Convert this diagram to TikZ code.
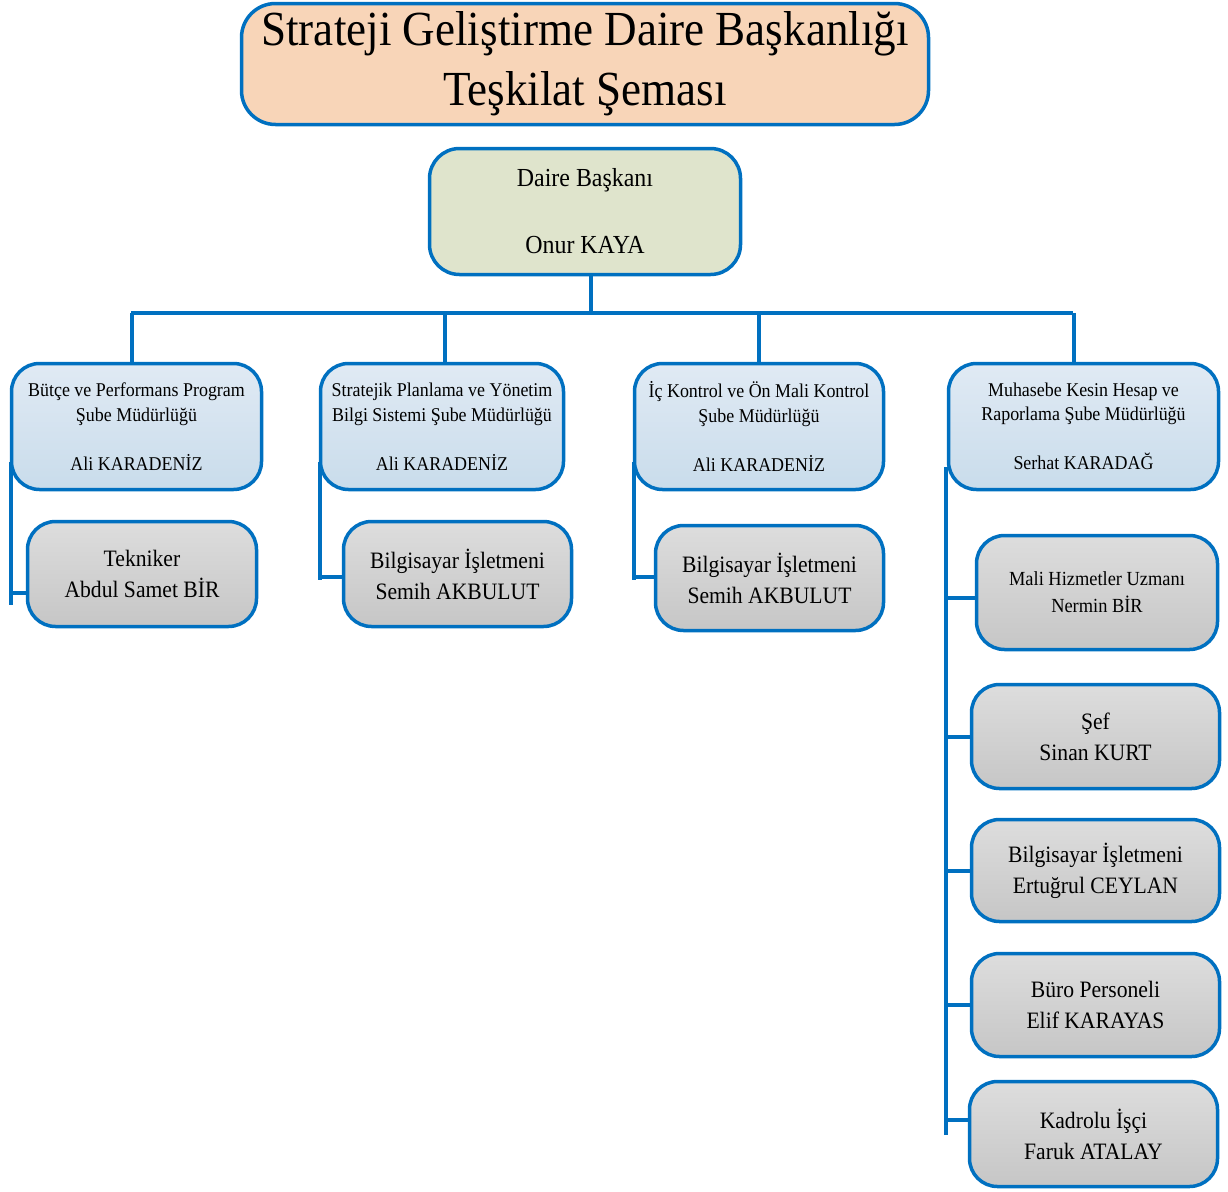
\documentclass[tikz,border=0pt]{standalone}
\usepackage{fontspec}
\setmainfont{Liberation Serif}[FakeStretch=0.92]
\usepackage{xcolor}
\usetikzlibrary{calc}

\definecolor{orgblue}{HTML}{0070C0}
\definecolor{peach}{HTML}{F8D5B8}
\definecolor{olivebg}{HTML}{DFE4CC}
\definecolor{bluetop}{HTML}{E0EAF4}
\definecolor{bluebot}{HTML}{C9DCEB}
\definecolor{graytop}{HTML}{DDDDDD}
\definecolor{graybot}{HTML}{C6C6C6}

\begin{document}
\begin{tikzpicture}[x=1pt,y=-1pt,
  box/.style={draw=orgblue,line width=3.5pt,align=center,inner sep=2pt},
  titlebox/.style={box,fill=peach,rounded corners=34pt,font=\fontsize{49}{60}\selectfont},
  headbox/.style={box,fill=olivebg,rounded corners=30pt,font=\fontsize{26}{34}\selectfont},
  unitbox/.style={box,top color=bluetop,bottom color=bluebot,rounded corners=28pt,font=\fontsize{19.5}{24.5}\selectfont},
  staffbox/.style={box,top color=graytop,bottom color=graybot,rounded corners=28pt,font=\fontsize{23.5}{31}\selectfont},
  link/.style={draw=orgblue,line width=4pt}]
\useasboundingbox (0,0) rectangle (1228,1191);

% title and head
\node[titlebox,minimum width=687pt,minimum height=121pt] (title) at (585,64)
  {Strateji Geliştirme Daire Başkanlığı\\Teşkilat Şeması};
\node[headbox,minimum width=311pt,minimum height=126pt] (head) at (585,211.5)
  {Daire Başkanı\\[33pt]Onur KAYA};

% units
\node[unitbox,minimum width=250pt,minimum height=126pt] (u1) at (136.5,426.5)
  {Bütçe ve Performans Program\\Şube Müdürlüğü\\[24.5pt]Ali KARADENİZ};
\node[unitbox,minimum width=243pt,minimum height=126pt] (u2) at (442,426.5)
  {Stratejik Planlama ve Yönetim\\Bilgi Sistemi Şube Müdürlüğü\\[24.5pt]Ali KARADENİZ};
\node[unitbox,minimum width=249pt,minimum height=126pt] (u3) at (759,426.5)
  {İç Kontrol ve Ön Mali Kontrol\\Şube Müdürlüğü\\[24.5pt]Ali KARADENİZ};
\node[unitbox,minimum width=270pt,minimum height=126pt] (u4) at (1083.5,426.5)
  {Muhasebe Kesin Hesap ve\\Raporlama Şube Müdürlüğü\\[24.5pt]Serhat KARADAĞ};

% staff
\node[staffbox,minimum width=229pt,minimum height=105pt] (s1) at (142,574)
  {Tekniker\\Abdul Samet BİR};
\node[staffbox,minimum width=228pt,minimum height=105pt] (s2) at (457.5,574)
  {Bilgisayar İşletmeni\\Semih AKBULUT};
\node[staffbox,minimum width=228pt,minimum height=105pt] (s3) at (769.5,578)
  {Bilgisayar İşletmeni\\Semih AKBULUT};
\node[staffbox,minimum width=241pt,minimum height=114pt,font=\fontsize{20}{27}\selectfont] (m1) at (1097,592.5)
  {Mali Hizmetler Uzmanı\\Nermin BİR};
\node[staffbox,minimum width=248pt,minimum height=104pt] (m2) at (1095.5,736.5)
  {Şef\\Sinan KURT};
\node[staffbox,minimum width=248pt,minimum height=102pt] (m3) at (1095.5,870.5)
  {Bilgisayar İşletmeni\\Ertuğrul CEYLAN};
\node[staffbox,minimum width=248pt,minimum height=103pt] (m4) at (1095.5,1005)
  {Büro Personeli\\Elif KARAYAS};
\node[staffbox,minimum width=248pt,minimum height=105pt] (m5) at (1093.5,1134)
  {Kadrolu İşçi\\Faruk ATALAY};

% head to units
\coordinate (busL) at (131,313);
\coordinate (busR) at (1073,313);
\draw[link] (busL) -- (busR);
\draw[link] ([xshift=6pt]head.south) -- ([xshift=6pt]head.south |- busL);
\draw[link] ([xshift=-5pt]u1.north) -- ([xshift=-5pt]u1.north |- busL);
\draw[link] ([xshift=3pt]u2.north) -- ([xshift=3pt]u2.north |- busL);
\draw[link] (u3.north) -- (u3.north |- busL);
\draw[link] ([xshift=-10pt]u4.north) -- ([xshift=-10pt]u4.north |- busL);

% units to staff
\coordinate (v1) at (11,462);
\coordinate (v1e) at (11,605);
\draw[link] (v1) -- (v1e);
\draw[link] (v1 |- 0,593) -- (s1.west |- 0,593);
\coordinate (v2) at (320,462);
\coordinate (v2e) at (320,580);
\draw[link] (v2) -- (v2e);
\draw[link] (v2 |- 0,577) -- (s2.west |- 0,577);
\coordinate (v3) at (634,462);
\coordinate (v3e) at (634,580);
\draw[link] (v3) -- (v3e);
\draw[link] (v3 |- 0,577) -- (s3.west |- 0,577);
\coordinate (v4) at (946,467);
\coordinate (v4e) at (946,1135);
\draw[link] (v4) -- (v4e);
\draw[link] (v4 |- 0,598) -- (m1.west |- 0,598);
\foreach \m in {m2,m3,m4}
  \draw[link] (v4 |- \m.west) -- (\m.west);
\draw[link] (v4 |- 0,1120) -- (m5.west |- 0,1120);
\end{tikzpicture}
\end{document}
